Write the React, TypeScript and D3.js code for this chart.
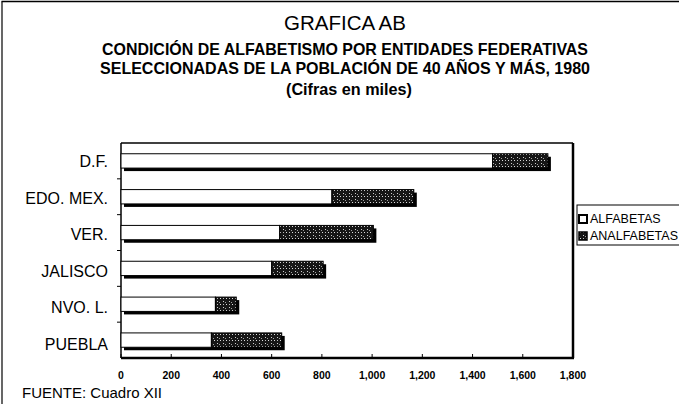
import React from "react";
import * as d3 from "d3";

const categories = ["D.F.", "EDO. MEX.", "VER.", "JALISCO", "NVO. L.", "PUEBLA"];
const alfabetas = [1480, 840, 632, 600, 376, 360];
const analfabetas = [220, 326, 373, 205, 83, 280];
const xTicks = [0, 200, 400, 600, 800, 1000, 1200, 1400, 1600, 1800];
const seriesNames = ["ALFABETAS", "ANALFABETAS"];

const W = 679;
const H = 404;
const FONT = "'Liberation Sans', Arial, sans-serif";

export default function App() {
  const x = d3.scaleLinear().domain([0, 1800]).range([121, 573]);
  const y = d3.scaleBand<string>().domain(categories).range([143, 358]).padding(0);
  const bw = y.bandwidth();
  const bh = bw * 0.4;
  const fmt = d3.format(",");
  const sh = 3;
  const cx = 345;

  return (
    <svg width={W} height={H} style={{ position: "absolute", left: 0, top: 0, background: "#fff" }}>
      <defs>
        <pattern id="dots" width="6" height="6" patternUnits="userSpaceOnUse">
          <rect width="6" height="6" fill="#161616" />
          <rect x="1" y="1" width="1" height="1" fill="#cfcfcf" />
          <rect x="3" y="2" width="1" height="1" fill="#a0a0a0" />
          <rect x="1" y="4" width="1" height="1" fill="#bdbdbd" />
          <rect x="4" y="4" width="1" height="1" fill="#e0e0e0" />
        </pattern>
      </defs>
      <rect x={0} y={0} width={W} height={H} fill="#fff" />
      {/* outer frame */}
      <line x1={1.5} y1={1.5} x2={W} y2={1.5} stroke="#000" strokeWidth={1.5} />
      <line x1={2} y1={1.5} x2={2} y2={H} stroke="#000" strokeWidth={1.2} />

      {/* titles */}
      <text x={cx} y={30} textAnchor="middle" fontFamily={FONT} fontSize={20.5} fill="#000">GRAFICA AB</text>
      <text x={cx} y={55} textAnchor="middle" fontFamily={FONT} fontSize={16.5} fontWeight="bold" fill="#000"
        textLength={486} lengthAdjust="spacingAndGlyphs">CONDICIÓN DE ALFABETISMO POR ENTIDADES FEDERATIVAS</text>
      <text x={cx} y={74} textAnchor="middle" fontFamily={FONT} fontSize={16.5} fontWeight="bold" fill="#000"
        textLength={490} lengthAdjust="spacingAndGlyphs">SELECCIONADAS DE LA POBLACIÓN DE 40 AÑOS Y MÁS, 1980</text>
      <text x={cx + 4} y={95} textAnchor="middle" fontFamily={FONT} fontSize={16} fontWeight="bold" fill="#000"
        textLength={126} lengthAdjust="spacingAndGlyphs">(Cifras en miles)</text>

      {/* plot frame */}
      <line x1={x(0)} y1={143} x2={x(1800)} y2={143} stroke="#000" strokeWidth={1.5} />
      <line x1={x(1800)} y1={143} x2={x(1800)} y2={358} stroke="#000" strokeWidth={2.5} />
      <line x1={x(0)} y1={358} x2={x(1800) + 1} y2={358} stroke="#000" strokeWidth={2.5} />
      <line x1={x(0)} y1={143} x2={x(0)} y2={358} stroke="#000" strokeWidth={1.5} />

      {/* category ticks on left axis */}
      {categories.map((c, i) =>
        i > 0 ? <line key={"t" + c} x1={x(0) - 4} x2={x(0)} y1={y(c)!} y2={y(c)!} stroke="#000" strokeWidth={1} /> : null
      )}

      {/* bars */}
      {categories.map((c, i) => {
        const cy = y(c)! + bw / 2;
        const top = cy - bh / 2;
        const total = alfabetas[i] + analfabetas[i];
        return (
          <g key={c}>
            <rect x={x(0) + sh} y={top + sh} width={x(total) - x(0)} height={bh} fill="#000" />
            <rect x={x(0)} y={top} width={x(alfabetas[i]) - x(0)} height={bh} fill="#fff" stroke="#000" strokeWidth={1} />
            <rect x={x(alfabetas[i])} y={top} width={x(total) - x(alfabetas[i])} height={bh} fill="url(#dots)" stroke="#000" strokeWidth={1} />
          </g>
        );
      })}

      {/* category labels */}
      {categories.map((c, i) => (
        <text key={"l" + c} x={108} y={y(c)! + bw / 2 + 6 + i * 0.8} textAnchor="end" fontFamily={FONT} fontSize={16} fill="#000">{c}</text>
      ))}

      {/* x ticks */}
      {xTicks.map((t) => (
        <g key={"x" + t}>
          <line x1={x(t)} x2={x(t)} y1={358} y2={354} stroke="#000" strokeWidth={1} />
          <text x={x(t)} y={379} textAnchor="middle" fontFamily={FONT} fontSize={10.5} fontWeight="bold" fill="#000">{fmt(t)}</text>
        </g>
      ))}

      {/* legend */}
      <rect x={577} y={205} width={110} height={40} fill="#fff" stroke="#000" strokeWidth={1} />
      <rect x={579} y={215} width={8} height={8} fill="#fff" stroke="#000" strokeWidth={2} />
      <text x={590} y={223} fontFamily={FONT} fontSize={12.5} fill="#000">{seriesNames[0]}</text>
      <rect x={579} y={232} width={8} height={8} fill="url(#dots)" stroke="#000" strokeWidth={1.5} />
      <text x={590} y={240} fontFamily={FONT} fontSize={12.5} fill="#000">{seriesNames[1]}</text>

      {/* source */}
      <text x={22} y={398} fontFamily={FONT} fontSize={15} fill="#000">FUENTE: Cuadro XII</text>
    </svg>
  );
}
